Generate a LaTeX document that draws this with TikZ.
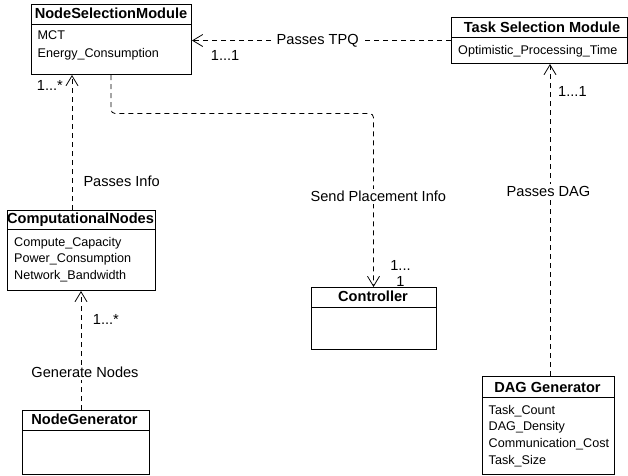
\documentclass[tikz,border=0pt]{standalone}
\usepackage{fontspec}
\setmainfont{Liberation Sans}
\usetikzlibrary{arrows.meta,calc}
\begin{document}
\begin{tikzpicture}[x=1pt,y=-1pt,
  classbox/.style={draw=black, line width=1pt, inner sep=0pt, anchor=north west},
  sepline/.style={draw=black, line width=1pt},
  hdr/.style={font=\fontsize{14.6}{17}\selectfont\bfseries, inner sep=0pt, anchor=base},
  attr/.style={font=\fontsize{12.6}{15}\selectfont, inner sep=0pt, anchor=base west},
  lbl/.style={font=\fontsize{14.6}{17}\selectfont, inner sep=0pt},
  lblbg/.style={lbl, fill=white, inner sep=2pt},
  dep/.style={draw=black, line width=0.8pt, dash pattern=on 5pt off 4pt,
    -{Straight Barb[length=10pt,width=12pt,line width=0.8pt]}}
]
\useasboundingbox (0,0) rectangle (628,475);

% class boxes
\node[classbox, minimum width=160pt, minimum height=70pt] (nsm) at (31,4) {};
\node[classbox, minimum width=176pt, minimum height=46pt] (tsm) at (451,17) {};
\node[classbox, minimum width=148pt, minimum height=80pt] (cn) at (7,210) {};
\node[classbox, minimum width=125pt, minimum height=62pt] (ctl) at (311,287) {};
\node[classbox, minimum width=127pt, minimum height=64pt] (ng) at (22,410) {};
\node[classbox, minimum width=132pt, minimum height=98pt] (dag) at (482,376) {};

% header separators
\draw[sepline] ($(nsm.north west)+(0,20)$) -- ($(nsm.north east)+(0,20)$);
\draw[sepline] ($(tsm.north west)+(0,20)$) -- ($(tsm.north east)+(0,20)$);
\draw[sepline] ($(cn.north west)+(0,19)$) -- ($(cn.north east)+(0,19)$);
\draw[sepline] ($(ctl.north west)+(0,20)$) -- ($(ctl.north east)+(0,20)$);
\draw[sepline] ($(ng.north west)+(0,20)$) -- ($(ng.north east)+(0,20)$);
\draw[sepline] ($(dag.north west)+(0,21)$) -- ($(dag.north east)+(0,21)$);

% headers
\node[hdr] (nsmh) at (111,18.3) {NodeSelectionModule};
\node[hdr] (tsmh) at (542,32.7) {Task Selection Module};
\node[hdr] (cnh) at (80.5,223.5) {ComputationalNodes};
\node[hdr] (ctlh) at (373,301) {Controller};
\node[hdr] (ngh) at (84.5,424) {NodeGenerator};
\node[hdr] (dagh) at (547.5,392.7) {DAG Generator};

% attributes
\node[attr] (a1) at (37.5,39) {MCT};
\node[attr] (a2) at (37.5,57) {Energy\_Consumption};
\node[attr] (a3) at (458,54) {Optimistic\_Processing\_Time};
\node[attr] (a4) at (14,246) {Compute\_Capacity};
\node[attr] (a5) at (14,262.8) {Power\_Consumption};
\node[attr] (a6) at (14,279.5) {Network\_Bandwidth};
\node[attr] (a7) at (488.5,414) {Task\_Count};
\node[attr] (a8) at (488.5,430.8) {DAG\_Density};
\node[attr] (a9) at (488.5,447.4) {Communication\_Cost};
\node[attr] (a10) at (488.5,464) {Task\_Size};

% connectors
\draw[dep] (tsm.west) -- (nsm.east |- tsm.west);
\draw[dep] (550,0 |- dag.north) -- (550,0 |- tsm.south);
\draw[dep] (72,0 |- cn.north) -- (72,0 |- nsm.south);
\draw[dep] (81,0 |- ng.north) -- (81,0 |- cn.south);
\coordinate (sp1) at (111,113.5);
\coordinate (sp2) at (373.5,113.5);
\draw[dep, rounded corners=4pt] (sp1 |- nsm.south) -- (sp1) -- (sp2) -- (sp2 |- ctl.north);

% connector labels
\node[lblbg, anchor=base] (l1) at (317.7,44.3) {Passes TPQ};
\node[lbl, anchor=base west] (m1) at (210.7,60) {1...1};
\node[lblbg, anchor=base] (l2) at (548.5,196) {Passes DAG};
\node[lbl, anchor=base west] (m2) at (558,96) {1...1};
\node[lbl, anchor=base west] (l3) at (83.3,186.7) {Passes Info};
\node[lbl, anchor=base west] (m3) at (36.7,90) {1...*};
\node[lblbg, anchor=base] (l4) at (378.3,201.7) {Send Placement Info};
\node[lbl, anchor=north, align=center, font=\fontsize{14.6}{16}\selectfont] (m4) at (400.5,260.2) {1...\\1};
\node[lblbg, anchor=base] (l5) at (85,377.7) {Generate Nodes};
\node[lbl, anchor=base west] (m5) at (92.7,324.3) {1...*};
\end{tikzpicture}
\end{document}
